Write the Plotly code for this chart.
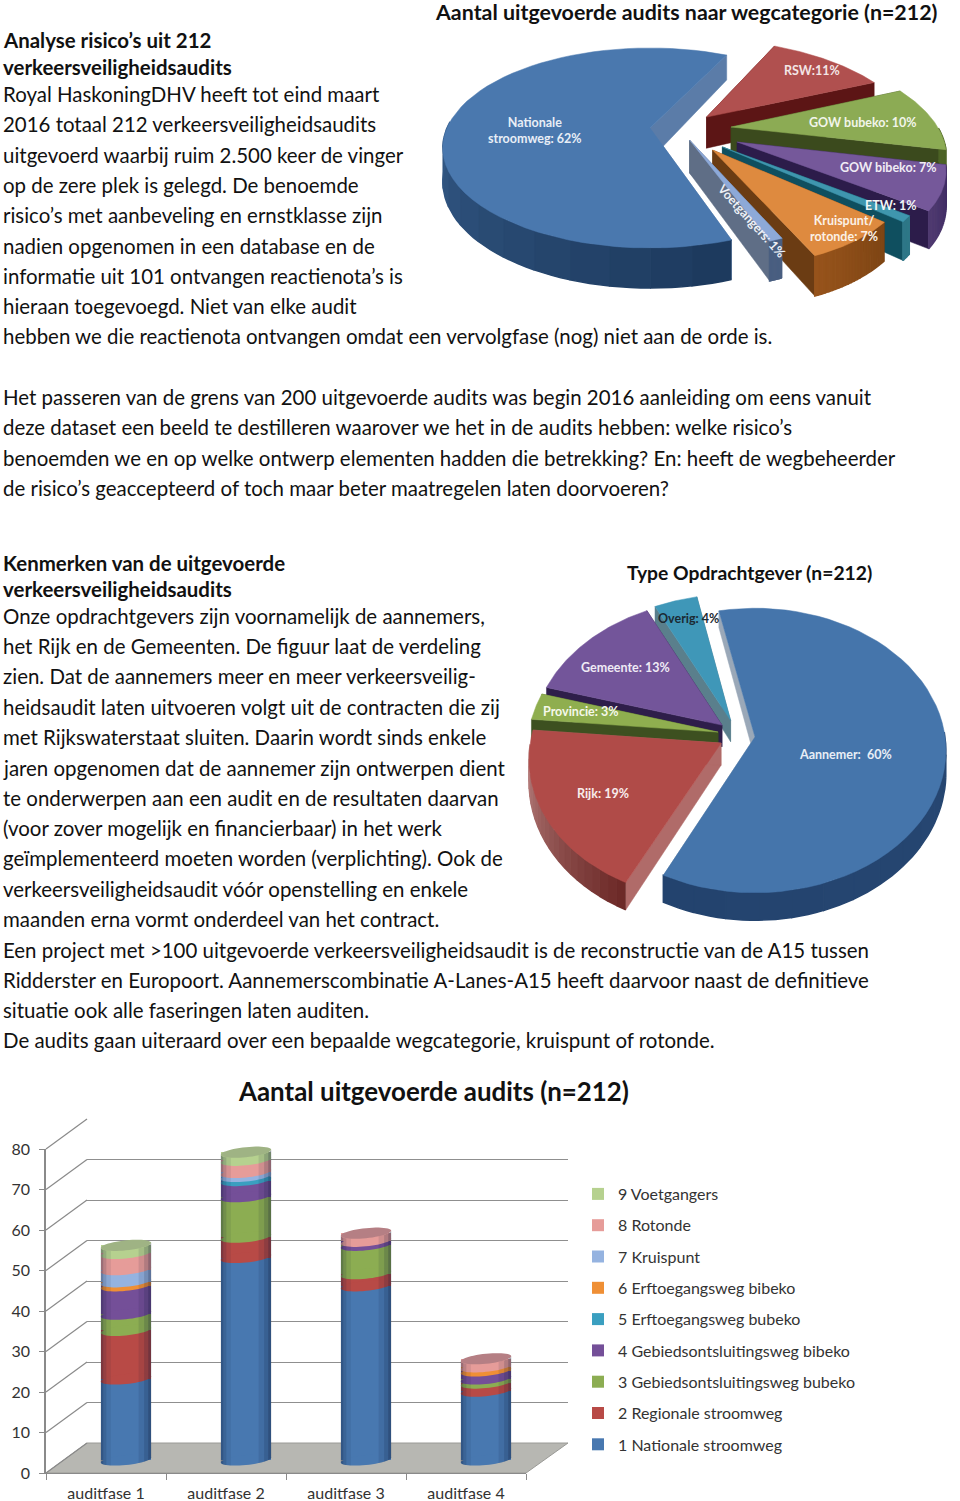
import numpy as np
import plotly.graph_objects as go

W, H = 960, 1501
BODY_FONT = "Lato"

# --- tekst van de pagina
titel_boven = "Aantal uitgevoerde audits naar wegcategorie (n=212)"
titel_midden = "Type Opdrachtgever (n=212)"
titel_onder = "Aantal uitgevoerde audits (n=212)"

regels = [
    (40, "<b>Analyse risico’s uit 212</b>"),
    (67, "<b>verkeersveiligheidsaudits</b>"),
    (94, "Royal HaskoningDHV heeft tot eind maart"),
    (124, "2016 totaal 212 verkeersveiligheidsaudits"),
    (155, "uitgevoerd waarbij ruim 2.500 keer de vinger"),
    (185, "op de zere plek is gelegd. De benoemde"),
    (215, "risico’s met aanbeveling en ernstklasse zijn"),
    (246, "nadien opgenomen in een database en de"),
    (276, "informatie uit 101 ontvangen reactienota’s is"),
    (306, "hieraan toegevoegd. Niet van elke audit"),
    (336, "hebben we die reactienota ontvangen omdat een vervolgfase (nog) niet aan de orde is."),
    (397, "Het passeren van de grens van 200 uitgevoerde audits was begin 2016 aanleiding om eens vanuit"),
    (427, "deze dataset een beeld te destilleren waarover we het in de audits hebben: welke risico’s"),
    (458, "benoemden we en op welke ontwerp elementen hadden die betrekking? En: heeft de wegbeheerder"),
    (488, "de risico’s geaccepteerd of toch maar beter maatregelen laten doorvoeren?"),
    (563, "<b>Kenmerken van de uitgevoerde</b>"),
    (589, "<b>verkeersveiligheidsaudits</b>"),
    (616, "Onze opdrachtgevers zijn voornamelijk de aannemers,"),
    (646, "het Rijk en de Gemeenten. De figuur laat de verdeling"),
    (676, "zien. Dat de aannemers meer en meer verkeersveilig-"),
    (707, "heidsaudit laten uitvoeren volgt uit de contracten die zij"),
    (737, "met Rijkswaterstaat sluiten. Daarin wordt sinds enkele"),
    (768, "jaren opgenomen dat de aannemer zijn ontwerpen dient"),
    (798, "te onderwerpen aan een audit en de resultaten daarvan"),
    (828, "(voor zover mogelijk en financierbaar) in het werk"),
    (858, "geïmplementeerd moeten worden (verplichting). Ook de"),
    (889, "verkeersveiligheidsaudit vóór openstelling en enkele"),
    (919, "maanden erna vormt onderdeel van het contract."),
    (950, "Een project met >100 uitgevoerde verkeersveiligheidsaudit is de reconstructie van de A15 tussen"),
    (980, "Ridderster en Europoort. Aannemerscombinatie A-Lanes-A15 heeft daarvoor naast de definitieve"),
    (1010, "situatie ook alle faseringen laten auditen."),
    (1040, "De audits gaan uiteraard over een bepaalde wegcategorie, kruispunt of rotonde."),
]

# --- data taartdiagram wegcategorie
weg_namen = ["Nationale stroomweg", "RSW", "GOW bubeko", "GOW bibeko", "ETW", "Kruispunt/rotonde", "Voetgangers"]
weg_pct = [62, 11, 10, 7, 1, 7, 1]

# --- data taartdiagram opdrachtgever
opdr_namen = ["Aannemer", "Rijk", "Provincie", "Gemeente", "Overig"]
opdr_pct = [60, 19, 3, 13, 4]

# --- data staafdiagram
fases = ["auditfase 1", "auditfase 2", "auditfase 3", "auditfase 4"]
nationale = [20, 50, 43, 17]
regionale = [12, 5, 3, 2]
gow_bubeko = [4, 10, 7, 1]
gow_bibeko = [7, 4, 1, 2]
etw_bubeko = [0, 1, 0, 0]
etw_bibeko = [1, 0, 0, 1]
kruispunt = [3, 1, 0, 0]
rotonde = [4, 3, 2, 2]
voetgangers = [2, 2, 0, 0]
y_ticks = [0, 10, 20, 30, 40, 50, 60, 70, 80]

series = [
    ("1 Nationale stroomweg", nationale, "#4878b0"),
    ("2 Regionale stroomweg", regionale, "#b84a46"),
    ("3 Gebiedsontsluitingsweg bubeko", gow_bubeko, "#8cad52"),
    ("4 Gebiedsontsluitingsweg bibeko", gow_bibeko, "#744f98"),
    ("5 Erftoegangsweg bubeko", etw_bubeko, "#3a9fc0"),
    ("6 Erftoegangsweg bibeko", etw_bibeko, "#ef8f35"),
    ("7 Kruispunt", kruispunt, "#95b3e0"),
    ("8 Rotonde", rotonde, "#e69c99"),
    ("9 Voetgangers", voetgangers, "#b6d18f"),
]


def px(x):
    return x / W


def py(y):
    return 1 - y / H


def mix(c0, c1, t):
    a = [int(c0[i:i + 2], 16) for i in (1, 3, 5)]
    b = [int(c1[i:i + 2], 16) for i in (1, 3, 5)]
    return "rgb(%d,%d,%d)" % tuple(round(a[i] + (b[i] - a[i]) * t) for i in range(3))


fig = go.Figure()


# --- 3D taarten: elk punt gaat door een kleine perspectief-projectie
def poly(xs, ys, kleur, dikte=0.5):
    fig.add_scatter(x=xs, y=ys, mode="lines", fill="toself", fillcolor=kleur,
                    line=dict(color=kleur, width=dikte), xaxis="x4", yaxis="y4",
                    hoverinfo="skip", showlegend=False)


def taart(pie, waarden, stijl, volgorde):
    cx, cy, A, B, p, D, q, start = pie
    hoeken = {}
    hoek = start
    for i, v in enumerate(waarden):
        hoeken[i] = (hoek, hoek + 360 * v / sum(waarden))
        hoek = hoeken[i][1]

    def proj(X, Y):
        w = 1 + p * Y
        return cx + A * X / w, cy - B * Y / w

    def diep(Y):
        return D * (1 - q * Y)

    for i in volgorde:
        a0, a1 = hoeken[i]
        tip, R, kl, wand, rim0, rim1 = stijl[i]
        th = np.radians(np.linspace(a0, a1, 60))
        X = tip[0] + R * np.sin(th)
        Y = tip[1] + R * np.cos(th)
        rx, ry = proj(X, Y)
        tx, ty = proj(*tip)
        # wanden langs de twee snijranden
        for j in (0, -1):
            d0, d1 = diep(tip[1]), diep(Y[j])
            poly([tx, rx[j], rx[j], tx, tx], [ty, ry[j], ry[j] + d1, ty + d0, ty], wand)
        # buitenrand, alleen waar die naar de kijker staat
        for n in range(24):
            h0 = a0 + (a1 - a0) * n / 24
            h1 = a0 + (a1 - a0) * (n + 1) / 24
            if np.cos(np.radians((h0 + h1) / 2)) > 0:
                continue
            t = np.radians(np.linspace(h0, h1, 5))
            Xr, Yr = tip[0] + R * np.sin(t), tip[1] + R * np.cos(t)
            xr, yr = proj(Xr, Yr)
            yb = yr + diep(Yr)
            kleur = mix(rim0, rim1, n / 23)
            poly(list(xr) + list(xr[::-1]), list(yr) + list(yb[::-1]), kleur, 1.5)
        # bovenvlak
        poly([tx] + list(rx) + [tx], [ty] + list(ry) + [ty], kl)


taart((650, 128, 203, 96, 0.2, 32, 0.25, 161),
      weg_pct,
      [((0, 0), 1.0, "#4a78ae", "#5b7ca8", "#1d3a5e", "#4a7ab0"),
       ((0.285, 0.116), 1.02, "#b0504f", "#5c1515", "#6d2a28", "#6d2a28"),
       ((0.40, 0.01), 1.02, "#8cab54", "#3b4a1d", "#4d6326", "#4d6326"),
       ((0.417, -0.142), 0.96, "#75589a", "#2c1c4a", "#3c2860", "#4f3a70"),
       ((0.343, -0.19), 0.94, "#3f96ae", "#0f4f5f", "#2f7788", "#2f7788"),
       ((0.295, -0.22), 0.9, "#de8a3f", "#6b3c13", "#7e4514", "#96531b"),
       ((0.19, -0.122), 0.88, "#8da9d8", "#5f6e86", "#4a5f80", "#4a5f80")],
      [0, 1, 2, 3, 4, 5, 6])

taart((755, 737, 190, 141, 0.095, 22, 0.25, -12),
      opdr_pct,
      [((0, 0), 1.0, "#4575ab", "#9aa8b8", "#2a4a75", "#23436e"),
       ((-0.178, -0.043), 1.0, "#b04b48", "#b06b69", "#6d2a28", "#c08a88"),
       ((-0.195, 0.035), 1.0, "#8fae4f", "#3d5020", "#3d5020", "#3d5020"),
       ((-0.175, 0.085), 1.0, "#73559a", "#2e1e4a", "#2e1e4a", "#2e1e4a"),
       ((-0.13, 0.12), 1.0, "#3f97b8", "#5a7f8c", "#2f7788", "#2f7788")],
      [0, 4, 3, 2, 1])

# --- staven
for i, (naam, waarden, kleur) in enumerate(series):
    fig.add_bar(x=[0, 1, 2, 3], y=waarden, name=naam, marker=dict(color=kleur, line_width=0),
                width=0.42, xaxis="x3", yaxis="y3", legendgroup=naam, legendrank=100 - i, hoverinfo="skip")

# lege sporen zodat de achterwand en de voorste assen getekend worden
fig.add_scatter(x=[None], y=[None], xaxis="x", yaxis="y", showlegend=False, hoverinfo="skip")
fig.add_scatter(x=fases, y=[None] * 4, xaxis="x2", yaxis="y2", showlegend=False, hoverinfo="skip")

shapes = []
PX_Y = 324 / 80      # pixels per eenheid op de y-as
AH = 0.21            # halve staafbreedte in categorie-eenheden
BH = 5 / PX_Y        # halve hoogte ellips
KH = 2.5 / PX_Y / AH # scheefstand ellips


def rand(y0, dx, teken):
    return y0 + KH * dx + teken * BH * np.sqrt(np.clip(1 - (dx / AH) ** 2, 0, 1))


def ellips(x0, y0, kleur):
    dx = AH * np.cos(np.linspace(0, 2 * np.pi, 49))
    s = np.sin(np.linspace(0, 2 * np.pi, 49))
    ys = y0 + KH * dx + BH * s
    pad = "M " + " L ".join(f"{x0 + a:.4f},{b:.3f}" for a, b in zip(dx, ys)) + " Z"
    return dict(type="path", path=pad, xref="x3", yref="y3", fillcolor=kleur, line_width=0, layer="above")


for b in range(len(fases)):
    cum = 0
    shapes.append(ellips(b, 0, series[0][2]))
    for naam, waarden, kleur in series:
        if waarden[b] == 0:
            continue
        if cum > 0:
            shapes.append(ellips(b, cum, kleur))
        cum += waarden[b]
    # schaduw aan de randen van de cilinder
    for f0, f1, alfa in [(-1, -0.9, 0.34), (-0.9, -0.78, 0.2), (-0.78, -0.6, 0.08),
                         (1, 0.88, 0.4), (0.88, 0.72, 0.24), (0.72, 0.5, 0.1)]:
        d = AH * np.linspace(f0, f1, 8)
        pts = [(b + a, rand(0, a, -1)) for a in d] + [(b + a, rand(cum, a, -1)) for a in d[::-1]]
        pad = "M " + " L ".join(f"{x:.4f},{y:.3f}" for x, y in pts) + " Z"
        shapes.append(dict(type="path", path=pad, xref="x3", yref="y3",
                           fillcolor=f"rgba(10,20,50,{alfa})", line_width=0, layer="above"))
    top = "#9fb384" if series[8][1][b] > 0 else "#b57f84"
    shapes.append(ellips(b, cum, top))

# vloer en schuine lijnen tussen voor- en achterkant
shapes.append(dict(type="path", xref="paper", yref="paper", layer="below",
                   path=f"M {px(46)},{py(1473)} L {px(526)},{py(1473)} L {px(568)},{py(1443)} L {px(87)},{py(1443)} Z",
                   fillcolor="#b7b7b2", line=dict(color="#9a9a96", width=1)))
for t in y_ticks:
    yv = 1473 - t * PX_Y
    shapes.append(dict(type="line", xref="paper", yref="paper", layer="below",
                       x0=px(46), x1=px(87), y0=py(yv), y1=py(yv - 30),
                       line=dict(color="#8a8a8a", width=1.2)))

# --- teksten
ann = []
for y, t in regels:
    ann.append(dict(x=px(1), y=py(y), text=t, font=dict(size=20.45, color="#111111", family=BODY_FONT)))
ann.append(dict(x=px(433), y=py(12), text=f"<b>{titel_boven}</b>", font=dict(size=21.4, color="#111111", family=BODY_FONT)))
ann.append(dict(x=px(625), y=py(572), text=f"<b>{titel_midden}</b>", font=dict(size=19.3, color="#111111", family=BODY_FONT)))
ann.append(dict(x=px(236), y=py(1091), text=f"<b>{titel_onder}</b>", font=dict(size=25.9, color="#111111", family=BODY_FONT)))

labels = [
    ("Nationale<br>stroomweg: 62%", 535, 131, "#e8eef6", 0),
    ("RSW:11%", 812, 70, "#f3e6e6", 0),
    ("GOW bubeko: 10%", 863, 122, "#f2f5ea", 0),
    ("GOW bibeko: 7%", 888, 167, "#f0ecf5", 0),
    ("ETW: 1%", 890, 205, "#f2f6f7", 0),
    ("Kruispunt/<br>rotonde: 7%", 844, 228, "#fbf1e6", 0),
    ("Voetgangers: 1%", 751, 221, "#eef1f6", 48),
    ("Overig: 4%", 688, 618, "#1b2a33", 0),
    ("Gemeente: 13%", 625, 667, "#efeaf5", 0),
    ("Provincie: 3%", 581, 712, "#f5f8ea", 0),
    ("Rijk: 19%", 603, 793, "#f8ecec", 0),
    ("Aannemer:  60%", 845, 755, "#e8eef6", 0),
]
for t, x, y, kleur, hoek in labels:
    ann.append(dict(x=px(x), y=py(y), text=f"<b>{t}</b>", xanchor="center", textangle=hoek,
                    font=dict(size=12.5, color=kleur, family=BODY_FONT)))

for a in ann:
    a.setdefault("xanchor", "left")
    a.update(xref="paper", yref="paper", yanchor="middle", showarrow=False, align="center")

tick_font = dict(size=16, color="#333333", family=BODY_FONT)
fig.update_layout(
    width=W, height=H, margin=dict(l=0, r=0, t=0, b=0, autoexpand=False), autosize=False,
    paper_bgcolor="white", plot_bgcolor="rgba(0,0,0,0)", barmode="stack",
    shapes=shapes, annotations=ann, font=dict(family=BODY_FONT),
    legend=dict(x=px(578), y=py(1177), xanchor="left", yanchor="top", bgcolor="rgba(0,0,0,0)",
                traceorder="grouped", tracegroupgap=7.5, font=tick_font),
    # achterwand met rasterlijnen
    xaxis=dict(domain=[px(87), px(568)], range=[0, 1], visible=False, anchor="y"),
    yaxis=dict(domain=[py(1443), py(1119)], range=[0, 80], tickvals=y_ticks, showgrid=True,
               gridcolor="#8f8f8f", gridwidth=1.2, showticklabels=False, zeroline=False,
               ticks="", showline=False, anchor="x"),
    # voorste assen met labels
    xaxis2=dict(domain=[px(46), px(526)], type="category", categoryorder="array", categoryarray=fases,
                range=[-0.5, 3.5], tickson="boundaries", ticks="outside", ticklen=6, tickcolor="#8a8a8a",
                ticklabelstandoff=6, showline=True, linecolor="#8a8a8a", showgrid=False, tickfont=tick_font,
                anchor="y2"),
    yaxis2=dict(domain=[py(1473), py(1149)], range=[0, 80], tickvals=y_ticks, ticks="outside", ticklen=5,
                tickcolor="#8a8a8a", ticklabelstandoff=6, showline=True, linecolor="#8a8a8a", linewidth=1.5,
                showgrid=False, zeroline=False, tickfont=tick_font, anchor="x2"),
    # staven op halve diepte, iets ruimte onder nul voor de ronde voet
    xaxis3=dict(domain=[px(66), px(546)], range=[-0.5, 3.5], visible=False, anchor="y3"),
    yaxis3=dict(domain=[py(1460 + 5 * PX_Y), py(1136)], range=[-5, 80], visible=False, anchor="x3"),
    # hele pagina in pixels voor de taarten
    xaxis4=dict(domain=[0, 1], range=[0, W], visible=False, anchor="y4"),
    yaxis4=dict(domain=[0, 1], range=[H, 0], visible=False, anchor="x4"),
)

fig.write_html("out.html", config=dict(displayModeBar=False),
               post_script="document.body.style.margin='0';document.body.style.overflow='hidden';")
